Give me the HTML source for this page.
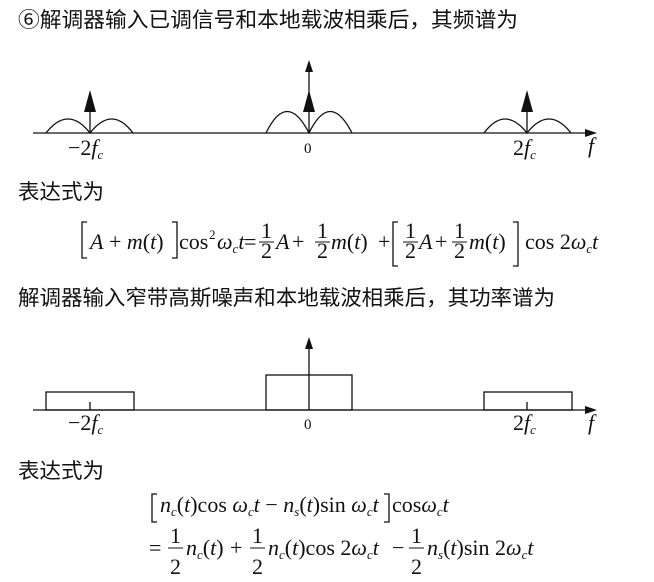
<!DOCTYPE html>
<html><head><meta charset="utf-8"><style>
html,body{margin:0;padding:0;background:#fff;}
svg{display:block}
.cn{font-family:"Liberation Sans","Noto Sans CJK SC",sans-serif;font-size:21px;fill:#111}
.m{font-family:"Liberation Serif",serif;font-size:22px;fill:#111}
.i{font-style:italic}
.s{font-family:"Liberation Serif",serif;font-size:13px;fill:#111}
</style></head><body>
<svg width="654" height="582" viewBox="0 0 654 582" xmlns="http://www.w3.org/2000/svg">
<text class="cn" x="18" y="27" textLength="500" lengthAdjust="spacingAndGlyphs">⑥解调器输入已调信号和本地载波相乘后，其频谱为</text>

<!-- diagram 1 -->
<g stroke="#111" stroke-width="1.3" fill="none">
<line x1="33" y1="133" x2="588" y2="133"/>
<path d="M46,133 Q68,105 90,133 Q112,105 133,133"/>
<path d="M266,133 Q287,90 309,133 Q330,90 352,133"/>
<path d="M484,133 Q505,105 527,133 Q549,105 571,133"/>
<line x1="90" y1="133" x2="90" y2="105"/>
<line x1="309" y1="133" x2="309" y2="70"/>
<line x1="527" y1="133" x2="527" y2="105"/>
</g>
<g fill="#111">
<polygon points="597,133 585,129 585,137"/>
<polygon points="90,90 84,112 96,112"/>
<polygon points="309,90 303,112 315,112"/>
<polygon points="527,90 521,112 533,112"/>
<polygon points="309,60 305,72 313,72"/>
</g>
<text class="m" x="68" y="155">−2<tspan class="i">f</tspan><tspan class="s i" dy="4">c</tspan></text>
<text class="m" x="304" y="153" style="font-size:15px">0</text>
<text class="m" x="513" y="155">2<tspan class="i">f</tspan><tspan class="s i" dy="4">c</tspan></text>
<text class="m i" x="588" y="153">f</text>

<text class="cn" x="18" y="199" textLength="86" lengthAdjust="spacingAndGlyphs">表达式为</text>

<!-- equation 1 -->
<g class="m">
<path d="M87,222 L82,222 L82,258 L87,258 M172,222 L177,222 L177,258 L172,258 M398,222 L393,222 L393,266 L398,266 M513,222 L518,222 L518,266 L513,266" stroke="#111" stroke-width="1.3" fill="none"/>
<text x="90" y="249"><tspan class="i">A</tspan> + <tspan class="i">m</tspan>(<tspan class="i">t</tspan>)</text>
<text x="179" y="249">cos</text>
<text class="s" x="209" y="239">2</text>
<text x="217" y="249"><tspan class="i">ω</tspan><tspan class="s i" dy="4">c</tspan><tspan class="i" dy="-4">t</tspan></text>
<text x="244" y="249">=</text>
<text x="261" y="238">1</text><line x1="259" y1="242" x2="274" y2="242" stroke="#111"/><text x="261" y="258">2</text>
<text class="i" x="276" y="249">A</text><text x="292" y="249">+</text>
<text x="317" y="238">1</text><line x1="315" y1="242" x2="330" y2="242" stroke="#111"/><text x="317" y="258">2</text>
<text x="331" y="249"><tspan class="i">m</tspan>(<tspan class="i">t</tspan>)</text>
<text x="378" y="249">+</text>
<text x="405" y="238">1</text><line x1="403" y1="242" x2="418" y2="242" stroke="#111"/><text x="405" y="258">2</text>
<text class="i" x="419" y="249">A</text><text x="435" y="249">+</text>
<text x="454" y="238">1</text><line x1="452" y1="242" x2="467" y2="242" stroke="#111"/><text x="454" y="258">2</text>
<text x="469" y="249"><tspan class="i">m</tspan>(<tspan class="i">t</tspan>)</text>
<text x="525" y="249">cos 2<tspan class="i">ω</tspan><tspan class="s i" dy="4">c</tspan><tspan class="i" dy="-4">t</tspan></text>
</g>

<text class="cn" x="18" y="305" textLength="537" lengthAdjust="spacingAndGlyphs">解调器输入窄带高斯噪声和本地载波相乘后，其功率谱为</text>

<!-- diagram 2 -->
<g stroke="#111" stroke-width="1.3" fill="none">
<line x1="33" y1="410" x2="588" y2="410"/>
<rect x="46" y="392" width="88" height="18"/>
<rect x="266" y="375" width="86" height="35"/>
<rect x="484" y="392" width="88" height="18"/>
<line x1="90" y1="410" x2="90" y2="402"/>
<line x1="527" y1="410" x2="527" y2="402"/>
<line x1="309" y1="410" x2="309" y2="345"/>
</g>
<g fill="#111">
<polygon points="597,410 585,406 585,414"/>
<polygon points="309,337 305,349 313,349"/>
</g>
<text class="m" x="68" y="430">−2<tspan class="i">f</tspan><tspan class="s i" dy="4">c</tspan></text>
<text class="m" x="304" y="429" style="font-size:15px">0</text>
<text class="m" x="513" y="430">2<tspan class="i">f</tspan><tspan class="s i" dy="4">c</tspan></text>
<text class="m i" x="588" y="430">f</text>

<text class="cn" x="18" y="478" textLength="86" lengthAdjust="spacingAndGlyphs">表达式为</text>

<!-- equation 2 -->
<g class="m">
<path d="M157,494 L152,494 L152,522 L157,522 M384,494 L389,494 L389,522 L384,522" stroke="#111" stroke-width="1.3" fill="none"/>
<text x="160" y="512"><tspan class="i">n</tspan><tspan class="s i" dy="4">c</tspan><tspan dy="-4">(</tspan><tspan class="i">t</tspan>)cos <tspan class="i">ω</tspan><tspan class="s i" dy="4">c</tspan><tspan class="i" dy="-4">t</tspan> − <tspan class="i">n</tspan><tspan class="s i" dy="4">s</tspan><tspan dy="-4">(</tspan><tspan class="i">t</tspan>)sin <tspan class="i">ω</tspan><tspan class="s i" dy="4">c</tspan><tspan class="i" dy="-4">t</tspan></text>
<text x="392" y="512">cos<tspan class="i">ω</tspan><tspan class="s i" dy="4">c</tspan><tspan class="i" dy="-4">t</tspan></text>
<text x="149" y="555">=</text>
<text x="170" y="543">1</text><line x1="168" y1="548" x2="183" y2="548" stroke="#111"/><text x="170" y="574">2</text>
<text x="186" y="555"><tspan class="i">n</tspan><tspan class="s i" dy="4">c</tspan><tspan dy="-4">(</tspan><tspan class="i">t</tspan>)</text>
<text x="230" y="555">+</text>
<text x="252" y="543">1</text><line x1="250" y1="548" x2="265" y2="548" stroke="#111"/><text x="252" y="574">2</text>
<text x="268" y="555"><tspan class="i">n</tspan><tspan class="s i" dy="4">c</tspan><tspan dy="-4">(</tspan><tspan class="i">t</tspan>)cos 2<tspan class="i">ω</tspan><tspan class="s i" dy="4">c</tspan><tspan class="i" dy="-4">t</tspan></text>
<text x="392" y="555">−</text>
<text x="411" y="543">1</text><line x1="409" y1="548" x2="424" y2="548" stroke="#111"/><text x="411" y="574">2</text>
<text x="427" y="555"><tspan class="i">n</tspan><tspan class="s i" dy="4">s</tspan><tspan dy="-4">(</tspan><tspan class="i">t</tspan>)sin 2<tspan class="i">ω</tspan><tspan class="s i" dy="4">c</tspan><tspan class="i" dy="-4">t</tspan></text>
</g>
</svg>
</body></html>
